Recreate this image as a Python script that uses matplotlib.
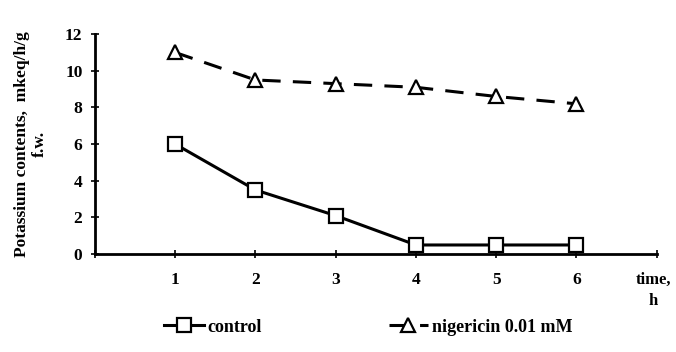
import numpy as np
import matplotlib
matplotlib.use("Agg")
import matplotlib.pyplot as plt

# Data
hours = [1, 2, 3, 4, 5, 6]
control = [6.0, 3.5, 2.1, 0.5, 0.5, 0.5]
nigericin = [11.0, 9.5, 9.3, 9.1, 8.6, 8.2]
y_ticks = [0, 2, 4, 6, 8, 10, 12]

plt.rcParams['font.family'] = ['Liberation Serif', 'DejaVu Serif']
plt.rcParams['font.weight'] = 'bold'

fig = plt.figure(figsize=(6.76, 3.52), dpi=100)
ax = fig.add_axes([0.1405, 0.278, 0.831, 0.625])

ax.plot(hours, control, color="black", lw=2.2, marker="s", ms=10,
        mfc="white", mec="black", mew=1.6, label="control")
ax.plot(hours, nigericin, color="black", lw=2.2, ls=(0, (6, 4)), marker="^",
        ms=10, mfc="white", mec="black", mew=1.6, label="nigericin 0.01 mM")

ax.set_xlim(0, 7)
ax.set_ylim(0, 12)
ax.set_xticks([0] + hours + [7])
ax.set_xticklabels([""] + [str(h) for h in hours] + [""])
ax.set_yticks(y_ticks)
ax.tick_params(direction="inout", length=6, width=1.2, labelsize=12.5, pad=6)
ax.tick_params(axis="x", pad=10)
for lab in ax.get_xticklabels() + ax.get_yticklabels():
    lab.set_fontweight("bold")

ax.spines["top"].set_visible(False)
ax.spines["right"].set_visible(False)
ax.spines["left"].set_linewidth(2)
ax.spines["bottom"].set_linewidth(2)

ax.set_ylabel("Potassium contents,  mkeq/h/g\nf.w.", fontsize=12.5,
              fontweight="bold", labelpad=12)
fig.text(0.966, 0.175, "time,\nh", ha="center", va="center", fontsize=12,
         fontweight="bold", linespacing=1.5)

fig.legend(loc="lower center", bbox_to_anchor=(0.545, 0.0), ncol=2,
           frameon=False, fontsize=13, columnspacing=7, handlelength=2.2,
           handletextpad=0.2)

fig.savefig("out.png", dpi=100)
